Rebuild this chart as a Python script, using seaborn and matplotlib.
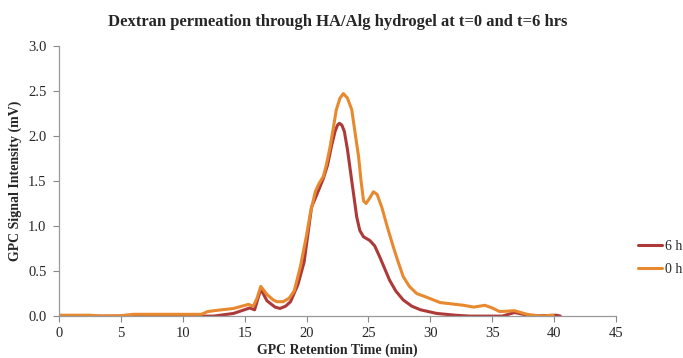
import pandas as pd
import matplotlib
matplotlib.use("Agg")
import matplotlib.pyplot as plt
import seaborn as sns

# data
time_0h = [0, 2.5, 3.5, 5, 6, 11.5, 12, 12.5, 14.1, 15.3, 15.7, 16.0, 16.3, 16.8, 17.3, 17.6, 18.1,
           18.6, 19.0, 19.5, 20.0, 20.3, 20.7, 21.0, 21.35, 21.6, 21.9, 22.15, 22.4, 22.7, 22.97,
           23.3, 23.65, 23.9, 24.2, 24.4, 24.6, 24.8, 25.1, 25.4, 25.7, 26.07, 26.5, 27.0,
           27.4, 27.8, 28.3, 28.9, 29.5, 30.8, 32.7, 33.5, 34.4, 35.0, 35.6, 36.8, 37.8, 38.9,
           39.9]
signal_0h = [0.01, 0.01, 0.0, 0.005, 0.02, 0.02, 0.05, 0.06, 0.085, 0.13, 0.11, 0.2, 0.33, 0.24,
             0.18, 0.16, 0.16, 0.2, 0.28, 0.55, 0.9, 1.14, 1.38, 1.47, 1.55, 1.68, 1.88, 2.08,
             2.29, 2.42, 2.47, 2.42, 2.29, 2.05, 1.77, 1.5, 1.28, 1.25, 1.31, 1.38, 1.35, 1.21,
             1.0, 0.77, 0.6, 0.44, 0.33, 0.25, 0.22, 0.15, 0.12, 0.10, 0.12, 0.09, 0.05, 0.06,
             0.02, 0.0, 0.01]

time_6h = [0, 12.5, 14.1, 15.4, 15.8, 16.3, 16.8, 17.45, 17.85, 18.3, 18.7, 19.3, 19.8, 20.4,
           20.8, 21.36, 21.7, 22.0, 22.3, 22.5, 22.65, 22.85, 23.05, 23.3, 23.55, 23.8, 24.05,
           24.3, 24.6, 25.1, 25.5, 25.9, 26.3, 26.7, 27.2, 27.8, 28.5, 29.2, 30.5, 32.0, 33.2,
           35.8, 36.8, 37.5, 38.0, 40.2, 40.5]
signal_6h = [0.0, 0.0, 0.03, 0.09, 0.07, 0.3, 0.17, 0.1, 0.085, 0.11, 0.16, 0.35, 0.6, 1.21,
             1.34, 1.53, 1.68, 1.88, 2.05, 2.12, 2.14, 2.12, 2.05, 1.85, 1.6, 1.35, 1.1,
             0.95, 0.88, 0.84, 0.78, 0.66, 0.53, 0.4, 0.28, 0.18, 0.11, 0.07, 0.03, 0.01, 0.0,
             0.0, 0.04, 0.02, 0.0, 0.01, 0.0]

df = pd.concat([
    pd.DataFrame({"time": time_6h, "signal": signal_6h, "sample": "6 h"}),
    pd.DataFrame({"time": time_0h, "signal": signal_0h, "sample": "0 h"}),
], ignore_index=True)

sns.set_style("white")
plt.rcParams["font.family"] = ["Liberation Serif", "DejaVu Serif"]

fig = plt.figure(figsize=(6.83, 3.58), dpi=100)
ax = fig.add_axes([0.0864, 0.117, 0.8156, 0.755])

sns.lineplot(data=df, x="time", y="signal", hue="sample", sort=False,
             palette={"6 h": "#AD3A38", "0 h": "#E8892F"}, linewidth=2.2, ax=ax)

ax.set_xlim(0, 45)
ax.set_ylim(0, 3.0)
ax.set_xticks(range(0, 46, 5))
ax.set_yticks([0.0, 0.5, 1.0, 1.5, 2.0, 2.5, 3.0])
ax.set_yticklabels([f"{v:.1f}" for v in ax.get_yticks()])
ax.tick_params(axis="both", labelsize=10.5, direction="out", length=4, color="#888888",
               width=0.8, bottom=True, left=True)
ax.tick_params(axis="y", pad=5)

sns.despine(ax=ax)
for s in ["left", "bottom"]:
    ax.spines[s].set_color("#999999")
    ax.spines[s].set_linewidth(0.9)

ax.set_title("Dextran permeation through HA/Alg hydrogel at t=0 and t=6 hrs",
             fontsize=12, fontweight="bold", pad=14)
ax.set_xlabel("GPC Retention Time (min)", fontsize=10, fontweight="bold", labelpad=3)
ax.set_ylabel("GPC Signal Intensity (mV)", fontsize=10, fontweight="bold", labelpad=4)

ax.legend(title=None, frameon=False, fontsize=10, loc="center left",
          bbox_to_anchor=(1.022, 0.215), handlelength=1.7, handletextpad=0.25,
          labelspacing=0.75, borderpad=0.2)

fig.savefig("out.png", dpi=100)
